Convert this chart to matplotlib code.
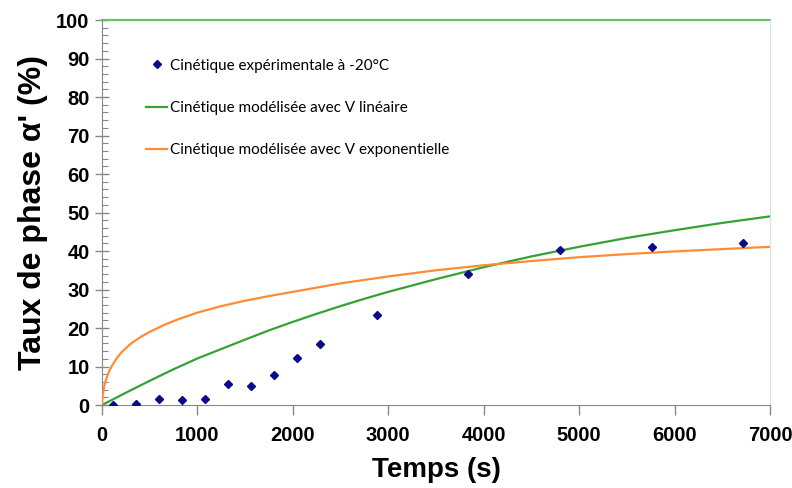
"""Cinétique de formation de la phase alpha' : points expérimentaux et deux modèles."""

import matplotlib
matplotlib.use("Agg")
import matplotlib.pyplot as plt
from matplotlib.ticker import MultipleLocator

# Experimental points (-20 °C)
exp_t = [115, 360, 600, 840, 1080, 1320, 1560, 1800, 2040, 2280, 2880, 3840, 4800, 5760, 6720]
exp_taux = [0.0, 0.3, 1.6, 1.2, 1.6, 5.5, 5.0, 7.8, 12.2, 15.8, 23.4, 34.0, 40.2, 41.1, 42.0]

# Model with linear V
lin_t = [0, 250, 500, 750, 1000, 1500, 1750, 2000, 2250, 2500, 2750, 3000, 3500, 4000,
         4500, 5000, 5500, 6000, 6500, 7000]
lin_taux = [0, 3.2, 6.3, 9.3, 12.1, 17.0, 19.4, 21.6, 23.7, 25.7, 27.6, 29.4, 32.7, 35.8,
            38.6, 41.1, 43.4, 45.4, 47.3, 49.0]

# Model with exponential V
exp_mod_t = [0, 5, 15, 30, 50, 75, 100, 150, 200, 300, 400, 500, 650, 800, 1000, 1250,
             1500, 1750, 2000, 2500, 3000, 3500, 4000, 4500, 5000, 5500, 6000, 6500, 7000]
exp_mod_taux = [0, 2.0, 3.8, 5.6, 7.2, 8.8, 10.0, 12.0, 13.6, 15.9, 17.6, 19.0, 20.8, 22.3,
                24.0, 25.7, 27.1, 28.3, 29.4, 31.6, 33.4, 35.0, 36.3, 37.4, 38.4, 39.2,
                39.9, 40.5, 41.1]

x_ticks = [0, 1000, 2000, 3000, 4000, 5000, 6000, 7000]
y_ticks = [0, 10, 20, 30, 40, 50, 60, 70, 80, 90, 100]

GREEN = '#33a333'
ORANGE = '#ff8c35'
NAVY = '#0a0a8c'

fig = plt.figure(figsize=(7.92, 4.88), dpi=100)
ax = fig.add_axes([0.1288, 0.170, 0.8434, 0.789])

# Curves
ax.plot(exp_t, exp_taux, linestyle='none', marker='D', markersize=4.5,
        color=NAVY, label='Cinétique expérimentale à -20°C', zorder=4)
ax.plot(lin_t, lin_taux, color=GREEN, linewidth=1.6,
        label='Cinétique modélisée avec V linéaire', zorder=3)
ax.plot(exp_mod_t, exp_mod_taux, color=ORANGE, linewidth=1.6,
        label='Cinétique modélisée avec V exponentielle', zorder=3)

# Green line across the top at 100 %
ax.axhline(100, color='#66c266', linewidth=1.6, zorder=2, clip_on=False)

ax.set_xlim(0, 7000)
ax.set_ylim(0, 100)
ax.set_xticks(x_ticks)
ax.set_yticks(y_ticks)
ax.yaxis.set_minor_locator(MultipleLocator(2))

for lab in ax.get_xticklabels() + ax.get_yticklabels():
    lab.set_fontfamily('Liberation Sans')
    lab.set_fontweight('bold')
    lab.set_fontsize(14.5)

ax.tick_params(axis='x', which='major', direction='out', length=7, width=1,
               color='#888888', pad=8)
ax.tick_params(axis='y', which='major', direction='inout', length=10, width=1,
               color='#888888', pad=4)
ax.tick_params(axis='y', which='minor', direction='in', length=4, width=0.8,
               color='#888888')

ax.set_xlabel('Temps (s)', fontsize=20, fontweight='bold',
              fontfamily='Liberation Sans', labelpad=9)
ax.set_ylabel("Taux de phase α' (%)", fontsize=23, fontweight='bold',
              fontfamily='Liberation Sans', labelpad=6)

# Spines
ax.spines['top'].set_visible(False)
ax.spines['left'].set_color('#888888')
ax.spines['bottom'].set_color('#888888')
ax.spines['right'].set_color('#dddddd')

leg = ax.legend(loc='upper left', bbox_to_anchor=(0.045, 0.935), frameon=False,
                labelspacing=1.85, handlelength=1.4, handletextpad=0.2,
                prop={'family': 'Lato', 'size': 11})

fig.savefig('out.png', dpi=100, facecolor='white')
plt.close(fig)
